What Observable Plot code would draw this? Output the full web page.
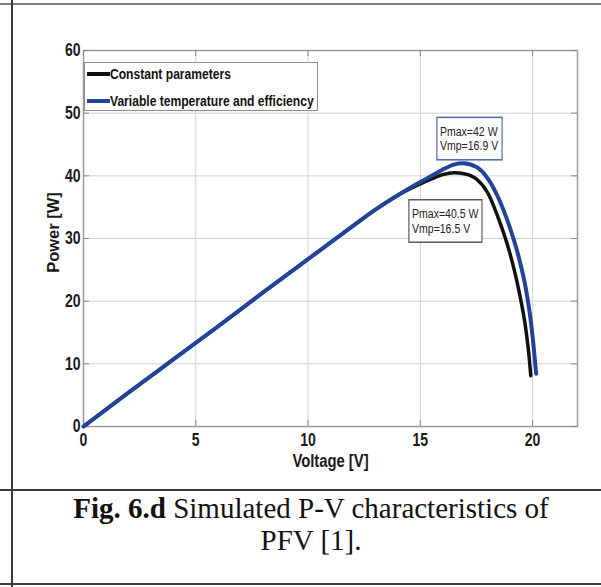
<!DOCTYPE html>
<html>
<head>
<meta charset="utf-8">
<script src="https://cdn.jsdelivr.net/npm/d3@7"></script>
<script src="https://cdn.jsdelivr.net/npm/@observablehq/plot@0.6"></script>
<style>
  html, body { margin: 0; padding: 0; background: #fff; }
  body { width: 601px; height: 587px; position: relative; overflow: hidden; }
  #chart { position: absolute; left: 0; top: 0; }
  .rule { position: absolute; background: #3a3a3a; }
  #legend {
    position: absolute; left: 84px; top: 62px; width: 234px; height: 49px;
    border: 1px solid #8c8c8c; background: #fff; box-sizing: border-box;
    font-family: "Liberation Sans", Arial, sans-serif;
    font-weight: bold; font-size: 15.5px; color: #111;
  }
  .lrow { position: absolute; left: 2px; height: 18px; display: flex; align-items: center; white-space: nowrap; }
  .swatch { width: 23px; height: 4px; flex: none; }
  .ltext { display: inline-block; transform: scaleX(0.78); transform-origin: 0 50%; }
  #caption {
    position: absolute; left: 12px; width: 598px; top: 492px;
    font-family: "Liberation Serif", "Times New Roman", serif; font-size: 29px;
    line-height: 32px; text-align: center; color: #111;
  }
</style>
</head>
<body>
<div id="chart"></div>
<div class="rule" style="left:0;top:3px;width:601px;height:2px;background:#7a7a7a"></div>
<div class="rule" style="left:11px;top:0;width:2px;height:587px"></div>
<div class="rule" style="left:0;top:489px;width:601px;height:2px"></div>
<div class="rule" style="left:0;top:583px;width:601px;height:2px"></div>
<div id="legend"></div>
<div id="caption"></div>
<script>
// ---- data ----
const seriesNames = ["Constant parameters", "Variable temperature and efficiency"];
const seriesColors = ["#111111", "#21449a"];

const constV = [0, 2, 4, 6, 8, 10, 12, 13, 14, 15, 15.5, 16, 16.5, 17, 17.5, 18, 18.5, 19, 19.4, 19.7, 19.82, 19.92];
const constP = [0, 5.4, 10.7, 16.0, 21.4, 26.7, 32.0, 34.6, 36.9, 38.7, 39.5, 40.2, 40.5, 40.3, 39.5, 37.3, 33.0, 27.5, 21.5, 15.5, 12.0, 8.1];

const varV = [0, 2, 4, 6, 8, 10, 12, 13, 14, 15, 15.5, 16, 16.5, 16.9, 17.5, 18, 18.5, 19, 19.4, 19.7, 19.95, 20.16];
const varP = [0, 5.4, 10.7, 16.0, 21.4, 26.7, 32.0, 34.6, 36.9, 39.0, 40.0, 41.0, 41.8, 42.0, 41.4, 39.6, 36.3, 31.6, 26.8, 22.0, 16.0, 8.4];

const xTicks = [0, 5, 10, 15, 20];
const yTicks = [0, 10, 20, 30, 40, 50, 60];

const annoV = [16.9, 16.5];
const annoP = [42, 40.5];
const annoText = ["Pmax=42 W\nVmp=16.9 V", "Pmax=40.5 W\nVmp=16.5 V"];

const xLabel = "Voltage [V]";
const yLabel = "Power [W]";
const captionBold = "Fig. 6.d";
const captionLine1 = " Simulated P-V characteristics of";
const captionLine2 = "PFV [1].";

// ---- build ----
const constData = constV.map((v, i) => ({v, p: constP[i]}));
const varData = varV.map((v, i) => ({v, p: varP[i]}));
const annoData = annoV.map((v, i) => ({v, p: annoP[i], t: annoText[i]}));

const sans = '"Liberation Sans", Arial, sans-serif';
const W = 601, H = 488, mL = 83, mR = 24, mT = 50, mB = 62;
const innerH = H - mT - mB, innerW = W - mL - mR;
const tk = 6;

const plot = Plot.plot({
  width: W, height: H,
  marginLeft: mL, marginRight: mR, marginTop: mT, marginBottom: mB,
  style: {background: "transparent", color: "#1a1a1a", fontFamily: sans},
  x: {domain: [0, 22]},
  y: {domain: [0, 60]},
  marks: [
    Plot.gridX(xTicks, {stroke: "#d2d2d2", strokeOpacity: 1}),
    Plot.gridY(yTicks, {stroke: "#d2d2d2", strokeOpacity: 1}),
    Plot.frame({stroke: "#9a9a9a", strokeWidth: 1.5}),
    Plot.tickX(xTicks, {x: d => d, insetTop: innerH - tk, stroke: "#888"}),
    Plot.tickX(xTicks, {x: d => d, insetBottom: innerH - tk, stroke: "#888"}),
    Plot.tickY(yTicks, {y: d => d, insetRight: innerW - tk, stroke: "#888"}),
    Plot.tickY(yTicks, {y: d => d, insetLeft: innerW - tk, stroke: "#888"}),
    Plot.axisX(xTicks, {tickSize: 0, tickPadding: 7, label: null, fontSize: 18, fontWeight: "bold", fontFamily: sans}),
    Plot.axisY(yTicks, {tickSize: 0, tickPadding: 3, label: null, fontSize: 18, fontWeight: "bold", fontFamily: sans}),
    Plot.text([xLabel], {frameAnchor: "bottom", text: d => d, dy: 34, lineAnchor: "middle", textAnchor: "middle",
      fontSize: 19, fontWeight: "bold", fontFamily: sans, fill: "#1a1a1a"}),
    Plot.text([yLabel], {frameAnchor: "left", text: d => d, dx: -30, dy: -6, rotate: -90, lineAnchor: "middle", textAnchor: "middle",
      fontSize: 16.5, fontWeight: "bold", fontFamily: sans, fill: "#1a1a1a"}),
    Plot.line(constData, {x: "v", y: "p", stroke: seriesColors[0], strokeWidth: 3.5, curve: "monotone-x"}),
    Plot.line(varData, {x: "v", y: "p", stroke: seriesColors[1], strokeWidth: 4, curve: "monotone-x"}),
    Plot.text(annoData.slice(0, 1), {x: "v", y: "p", text: "t", dx: -23, dy: -25, textAnchor: "start",
      lineAnchor: "middle", lineHeight: 1.1, fontSize: 13.5, fontFamily: sans, fill: "#222"}),
    Plot.text(annoData.slice(1, 2), {x: "v", y: "p", text: "t", dx: -42, dy: 48, textAnchor: "start",
      lineAnchor: "middle", lineHeight: 1.1, fontSize: 13.5, fontFamily: sans, fill: "#222"})
  ]
});
document.getElementById("chart").append(plot);

// condense the text horizontally (narrow face look), except the y label
const sx = 0.78;
d3.select(plot).selectAll("text").each(function () {
  if (this.textContent === yLabel) return;
  const x = +this.getAttribute("x") || 0;
  const t = this.getAttribute("transform") || "";
  this.setAttribute("transform", `${t} translate(${x},0) scale(${sx},1) translate(${-x},0)`);
});

// boxes around the annotations
d3.select(plot).selectAll("text").each(function () {
  const txt = this.textContent;
  if (!txt.startsWith("Pmax")) return;
  const col = txt.includes("=42 ") ? "#4a68a6" : "#5a5a5a";
  const b = this.getBBox();
  const padX = 4, padY = 6;
  d3.select(this.parentNode).insert("rect", () => this)
    .attr("transform", this.getAttribute("transform"))
    .attr("x", b.x - padX).attr("y", b.y - padY)
    .attr("width", b.width + 2 * padX).attr("height", b.height + 2 * padY)
    .attr("fill", "#fff").attr("stroke", col).attr("stroke-width", 1.5);
});

// legend
const legend = document.getElementById("legend");
seriesNames.forEach((name, i) => {
  const row = document.createElement("div");
  row.className = "lrow";
  row.style.top = (i === 0 ? 2 : 29) + "px";
  const sw = document.createElement("span");
  sw.className = "swatch";
  sw.style.background = seriesColors[i];
  const tx = document.createElement("span");
  tx.className = "ltext";
  tx.textContent = name;
  row.append(sw, tx);
  legend.append(row);
});

// caption
const cap = document.getElementById("caption");
const bold = document.createElement("b");
bold.textContent = captionBold;
cap.append(bold, document.createTextNode(captionLine1), document.createElement("br"), document.createTextNode(captionLine2));
</script>
</body>
</html>
